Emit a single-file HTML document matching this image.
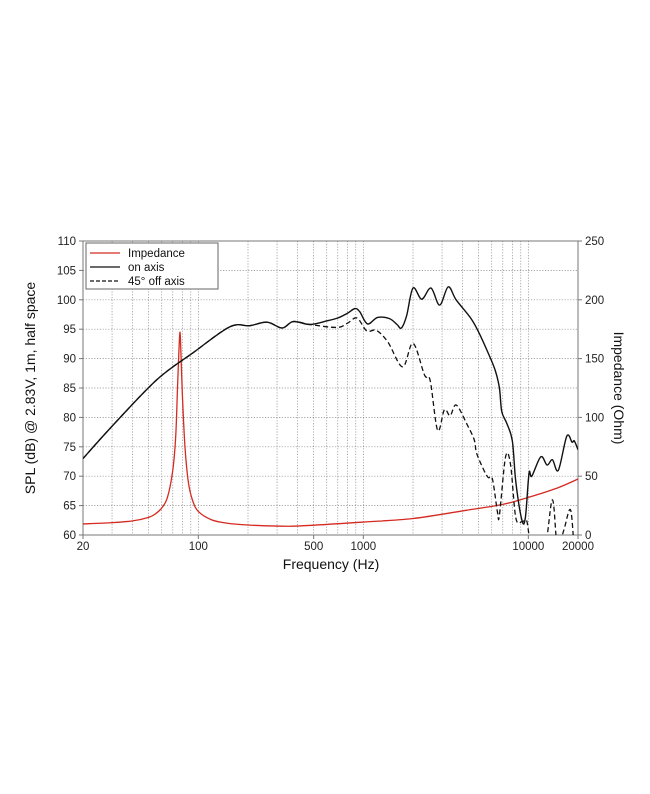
<!DOCTYPE html>
<html><head><meta charset="utf-8"><style>
html,body{margin:0;padding:0;background:#fff;width:650px;height:794px;overflow:hidden}
svg{display:block;font-family:"Liberation Sans",Arial,sans-serif}
</style></head><body>
<svg id="chart" width="650" height="794"></svg>
<script>
// ---- data ----
const onFreq = [20,30,56,93,155,205,261,322,376,475,600,700,800,888,950,1060,1220,1440,1600,1700,1830,2000,2260,2570,2900,3270,3650,4470,5000,5700,6300,6680,6900,7400,8000,8400,9150,9600,10100,10500,11900,13000,14000,15200,17100,18400,19000,20000];
const onSpl  = [73,78.5,86.4,91,95.4,95.6,96.2,95.2,96.3,95.8,96.4,96.9,97.7,98.5,98,95.9,97,96.8,95.8,95.2,97.3,102,100.1,102,99.1,102.2,100,96.9,94.5,91,88,85,81,79,76,69,62.5,63,70.5,70,73.3,71.9,72.8,71,76.8,75.8,76,74.5];
const offFreq = [20,30,56,93,155,205,261,322,376,475,690,800,915,1050,1200,1410,1730,2000,2350,2540,2820,3100,3360,3660,4270,4700,4850,5300,5700,6060,6500,6680,7280,7800,8400,9200,9750,10100,10600,12600,14000,15000,16400,18000,19000,20000];
const offSpl  = [73,78.5,86.4,91,95.4,95.6,96.2,95.2,96.3,95.8,95.3,96,96.9,94.7,94.8,92.8,88.6,92.6,87.2,86.3,77.8,81.3,80.3,82.1,78.7,76.2,74,71.4,69.8,69.5,63.9,63.4,73.3,72,62.9,62.3,62.5,60,57,58,66,58,60.8,64.3,58,57];
const impFreq = [20,30,40,50,55,60,65,70,73,75,77,78,80,83,87,92,100,120,150,200,300,412,1000,2000,4200,7000,10000,15000,20000];
const impOhm  = [9.4,10.5,12,15,18,23,32,55,85,130,169,165,120,75,45,30,20,13,10,8.5,7.6,7.7,11,14,21,26,32,40,47.6];
const leftTicks = [60,65,70,75,80,85,90,95,100,105,110];
const rightTicks = [0,50,100,150,200,250];
const xLabels = [20,100,500,1000,10000,20000];

// ---- axes ----
const L=83,R=578,T=241,B=535;
const xS=f=>L+(Math.log10(f)-Math.log10(20))/3*(R-L);
const yS=d=>B-(d-60)/50*(B-T);
const yI=o=>B-o/250*(B-T);
const NS="http://www.w3.org/2000/svg";
const svg=document.getElementById('chart');
function mk(tag,attrs,parent){const e=document.createElementNS(NS,tag);for(const k in attrs)e.setAttribute(k,attrs[k]);(parent||svg).appendChild(e);return e;}

// grid
const grid=mk('g',{});


const gf=[];
for(let d=1;d<=4;d++)for(let m=1;m<10;m++){const f=m*Math.pow(10,d);if(f>20&&f<20000)gf.push(f);}
gf.forEach(f=>mk('line',{x1:xS(f),x2:xS(f),y1:T,y2:B,stroke:'#888','stroke-width':0.7,'stroke-dasharray':'1.2,1.6'},grid));
for(let d=65;d<110;d+=5)mk('line',{x1:L,x2:R,y1:yS(d),y2:yS(d),stroke:'#888','stroke-width':0.7,'stroke-dasharray':'1.2,1.6'},grid);

// frame
const fr=mk('rect',{x:L,y:T,width:R-L,height:B-T,fill:'none',stroke:'#777','stroke-width':1});



// ticks & labels
leftTicks.forEach(v=>{mk('line',{x1:L-4,x2:L,y1:yS(v),y2:yS(v),stroke:'#777'});
 const t=mk('text',{x:L-7,y:yS(v)+4,'font-size':11.5,'text-anchor':'end',fill:'#222'});t.textContent=v;
 
 });
rightTicks.forEach(v=>{mk('line',{x1:R,x2:R+4,y1:yI(v),y2:yI(v),stroke:'#777'});
 const t=mk('text',{x:R+7,y:yI(v)+4,'font-size':11.5,fill:'#222'});t.textContent=v;
 
 });
xLabels.forEach(v=>{mk('line',{x1:xS(v),x2:xS(v),y1:B,y2:B+4,stroke:'#777'});
 const t=mk('text',{x:xS(v),y:B+15,'font-size':11.5,'text-anchor':'middle',fill:'#222'});t.textContent=v;
 
 });

// titles
let t=mk('text',{x:331,y:569,'font-size':14,'text-anchor':'middle',fill:'#111'});t.textContent='Frequency (Hz)';


t=mk('text',{x:0,y:0,'font-size':14,'text-anchor':'middle',fill:'#111',transform:'translate(35,388) rotate(-90)'});t.textContent='SPL (dB) @ 2.83V, 1m, half space';


t=mk('text',{x:0,y:0,'font-size':14,'text-anchor':'middle',fill:'#111',transform:'translate(614,388) rotate(90)'});t.textContent='Impedance (Ohm)';



// curves
const defs=mk('defs',{});const cp=mk('clipPath',{id:'clip'},defs);mk('rect',{x:L,y:T,width:R-L,height:B-T},cp);
function path(pts){let d='M'+pts[0][0]+','+pts[0][1];
 for(let i=0;i<pts.length-1;i++){const p0=pts[Math.max(0,i-1)],p1=pts[i],p2=pts[i+1],p3=pts[Math.min(pts.length-1,i+2)];
  const c1=[p1[0]+(p2[0]-p0[0])/6,p1[1]+(p2[1]-p0[1])/6],c2=[p2[0]-(p3[0]-p1[0])/6,p2[1]-(p3[1]-p1[1])/6];
  d+=' C'+c1[0]+','+c1[1]+' '+c2[0]+','+c2[1]+' '+p2[0]+','+p2[1];}
 return d;}
let p=mk('path',{d:path(impFreq.map((f,i)=>[xS(f),yI(impOhm[i])])),fill:'none',stroke:'#d42a20','stroke-width':1.3,'clip-path':'url(#clip)'});


p=mk('path',{d:path(offFreq.map((f,i)=>[xS(f),yS(offSpl[i])])),fill:'none',stroke:'#111','stroke-width':1.3,'stroke-dasharray':'5,3','clip-path':'url(#clip)'});


p=mk('path',{d:path(onFreq.map((f,i)=>[xS(f),yS(onSpl[i])])),fill:'none',stroke:'#111','stroke-width':1.4,'clip-path':'url(#clip)'});



// legend
const lg=mk('g',{});


mk('rect',{x:86,y:243,width:132,height:46,fill:'#fff',stroke:'#666','stroke-width':1},lg);
[['Impedance','#d42a20',''],['on axis','#111',''],['45° off axis','#111','4,2']].forEach((e,i)=>{
 const y=253+i*14;
 mk('line',{x1:90,x2:120,y1:y,y2:y,stroke:e[1],'stroke-width':1.3,'stroke-dasharray':e[2]},lg);
 const tx=mk('text',{x:128,y:y+4,'font-size':11.5,fill:'#111'},lg);tx.textContent=e[0];
 
 
});
</script>
</body></html>
